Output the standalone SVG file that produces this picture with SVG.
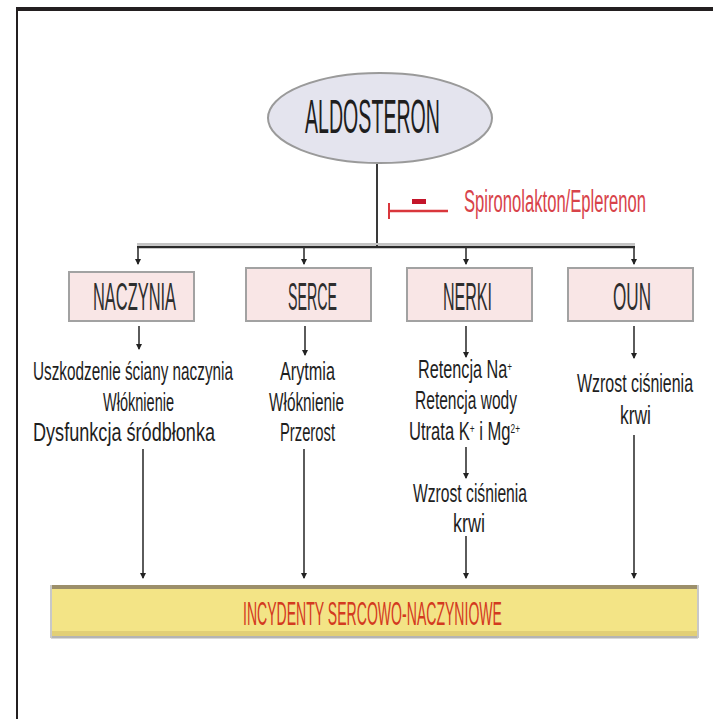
<svg xmlns="http://www.w3.org/2000/svg" width="713" height="719" viewBox="0 0 713 719">
  <defs>
    <marker id="arr" viewBox="0 0 6 6" refX="5" refY="3" markerWidth="6" markerHeight="6" markerUnits="userSpaceOnUse" orient="auto">
      <path d="M0,0 L6,3 L0,6 z" fill="#222"/>
    </marker>
    <style>
      text { font-family: "Liberation Sans", Arial, sans-serif; }
      .t { font-size: 26px; fill: #1e1e1e; }
      .lbl { font-size: 39px; fill: #2e2e2e; }
      .box { fill: #f9e6e6; stroke: #a2a2a2; stroke-width: 2; }
      .ar { stroke: #333; stroke-width: 1.6; fill: none; marker-end: url(#arr); }
      .sup { font-size: 13px; }
    </style>
  </defs>

  <!-- page frame -->
  <rect x="16" y="7" width="697" height="4" fill="#231f20"/>
  <rect x="16" y="7" width="2" height="712" fill="#231f20"/>

  <!-- hormone -->
  <g id="aldosteron">
    <ellipse cx="380" cy="118" rx="112" ry="45" fill="#e4e4ee" stroke="#9a9a9a" stroke-width="2"/>
    <text x="305" y="133" font-size="49" fill="#1e1e1e" textLength="135" lengthAdjust="spacingAndGlyphs">ALDOSTERON</text>
  </g>

  <!-- blocker -->
  <g id="inhibitor">
    <line x1="389" y1="211" x2="448" y2="211" stroke="#d9373c" stroke-width="2.5"/>
    <line x1="389" y1="203" x2="389" y2="219" stroke="#d9373c" stroke-width="2"/>
    <rect x="412" y="199" width="14" height="5" fill="#c4152a"/>
    <text x="464" y="212" font-size="31" fill="#d8434a" textLength="182" lengthAdjust="spacingAndGlyphs">Spironolakton/Eplerenon</text>
  </g>

  <!-- target organs -->
  <g id="naczynia">
    <rect class="box" x="69" y="272" width="125" height="49"/>
    <text class="lbl" x="93" y="310" textLength="83" lengthAdjust="spacingAndGlyphs">NACZYNIA</text>
  </g>
  <g id="serce">
    <rect class="box" x="246" y="268" width="125" height="53"/>
    <text class="lbl" x="288" y="310" textLength="49" lengthAdjust="spacingAndGlyphs">SERCE</text>
  </g>
  <g id="nerki">
    <rect class="box" x="407" y="268" width="125" height="53"/>
    <text class="lbl" x="443" y="310" textLength="49" lengthAdjust="spacingAndGlyphs">NERKI</text>
  </g>
  <g id="oun">
    <rect class="box" x="568" y="268" width="125" height="53"/>
    <text class="lbl" x="613" y="310" textLength="38" lengthAdjust="spacingAndGlyphs">OUN</text>
  </g>

  <!-- effects -->
  <g id="efekty-naczynia">
    <text class="t" x="33" y="380" textLength="200" lengthAdjust="spacingAndGlyphs">Uszkodzenie ściany naczynia</text>
    <text class="t" x="103" y="411" textLength="71" lengthAdjust="spacingAndGlyphs">Włóknienie</text>
    <text class="t" x="33" y="441" textLength="182" lengthAdjust="spacingAndGlyphs">Dysfunkcja śródbłonka</text>
  </g>
  <g id="efekty-serce">
    <text class="t" x="280" y="380" textLength="55" lengthAdjust="spacingAndGlyphs">Arytmia</text>
    <text class="t" x="269" y="411" textLength="75" lengthAdjust="spacingAndGlyphs">Włóknienie</text>
    <text class="t" x="280" y="441" textLength="55" lengthAdjust="spacingAndGlyphs">Przerost</text>
  </g>
  <g id="efekty-nerki">
    <text class="t" x="418" y="378" textLength="94" lengthAdjust="spacingAndGlyphs">Retencja Na<tspan class="sup" baseline-shift="super">+</tspan></text>
    <text class="t" x="415" y="409" textLength="102" lengthAdjust="spacingAndGlyphs">Retencja wody</text>
    <text class="t" x="409" y="440" textLength="111" lengthAdjust="spacingAndGlyphs">Utrata K<tspan class="sup" baseline-shift="super">+</tspan> i Mg<tspan class="sup" baseline-shift="super">2+</tspan></text>
    <text class="t" x="413" y="502" textLength="114" lengthAdjust="spacingAndGlyphs">Wzrost ciśnienia</text>
    <text class="t" x="453" y="532" textLength="32" lengthAdjust="spacingAndGlyphs">krwi</text>
  </g>
  <g id="efekty-oun">
    <text class="t" x="577" y="392" textLength="116" lengthAdjust="spacingAndGlyphs">Wzrost ciśnienia</text>
    <text class="t" x="620" y="424" textLength="31" lengthAdjust="spacingAndGlyphs">krwi</text>
  </g>

  <!-- outcome -->
  <g id="incydenty">
    <rect x="51" y="585" width="647" height="53" fill="#f3e486"/>
    <rect x="51" y="631" width="647" height="5" fill="#e2cf76"/>
    <rect x="51" y="636" width="647" height="2.5" fill="#b4b4b4"/>
    <rect x="51" y="585" width="647" height="4" fill="#9c8f6a"/>
    <rect x="50" y="585" width="2" height="53" fill="#c8c8c8"/>
    <rect x="697" y="585" width="2" height="53" fill="#c8c8c8"/>
    <text x="243" y="625" font-size="33" fill="#d33a1f" textLength="259" lengthAdjust="spacingAndGlyphs">INCYDENTY SERCOWO-NACZYNIOWE</text>
  </g>

  <!-- connectors -->
  <g id="connectors">
    <line x1="377" y1="164" x2="377" y2="246" stroke="#3a3a3a" stroke-width="2"/>
    <line x1="137" y1="244" x2="635" y2="244" stroke="#c4c4c4" stroke-width="2"/>
    <line x1="137" y1="247" x2="635" y2="247" stroke="#2a2a2a" stroke-width="2.4"/>
    <path class="ar" d="M138,247 V264"/>
    <path class="ar" d="M304,247 V264"/>
    <path class="ar" d="M466,247 V264"/>
    <path class="ar" d="M634,247 V264"/>

    <path class="ar" d="M139,326 V349"/>
    <path class="ar" d="M305,326 V355"/>
    <path class="ar" d="M466,326 V357"/>
    <path class="ar" d="M634,326 V358"/>

    <path class="ar" d="M143,449 V578"/>
    <path class="ar" d="M304,449 V578"/>
    <path class="ar" d="M466,447 V478"/>
    <path class="ar" d="M466,536 V578"/>
    <path class="ar" d="M634,435 V578"/>
  </g>
</svg>
